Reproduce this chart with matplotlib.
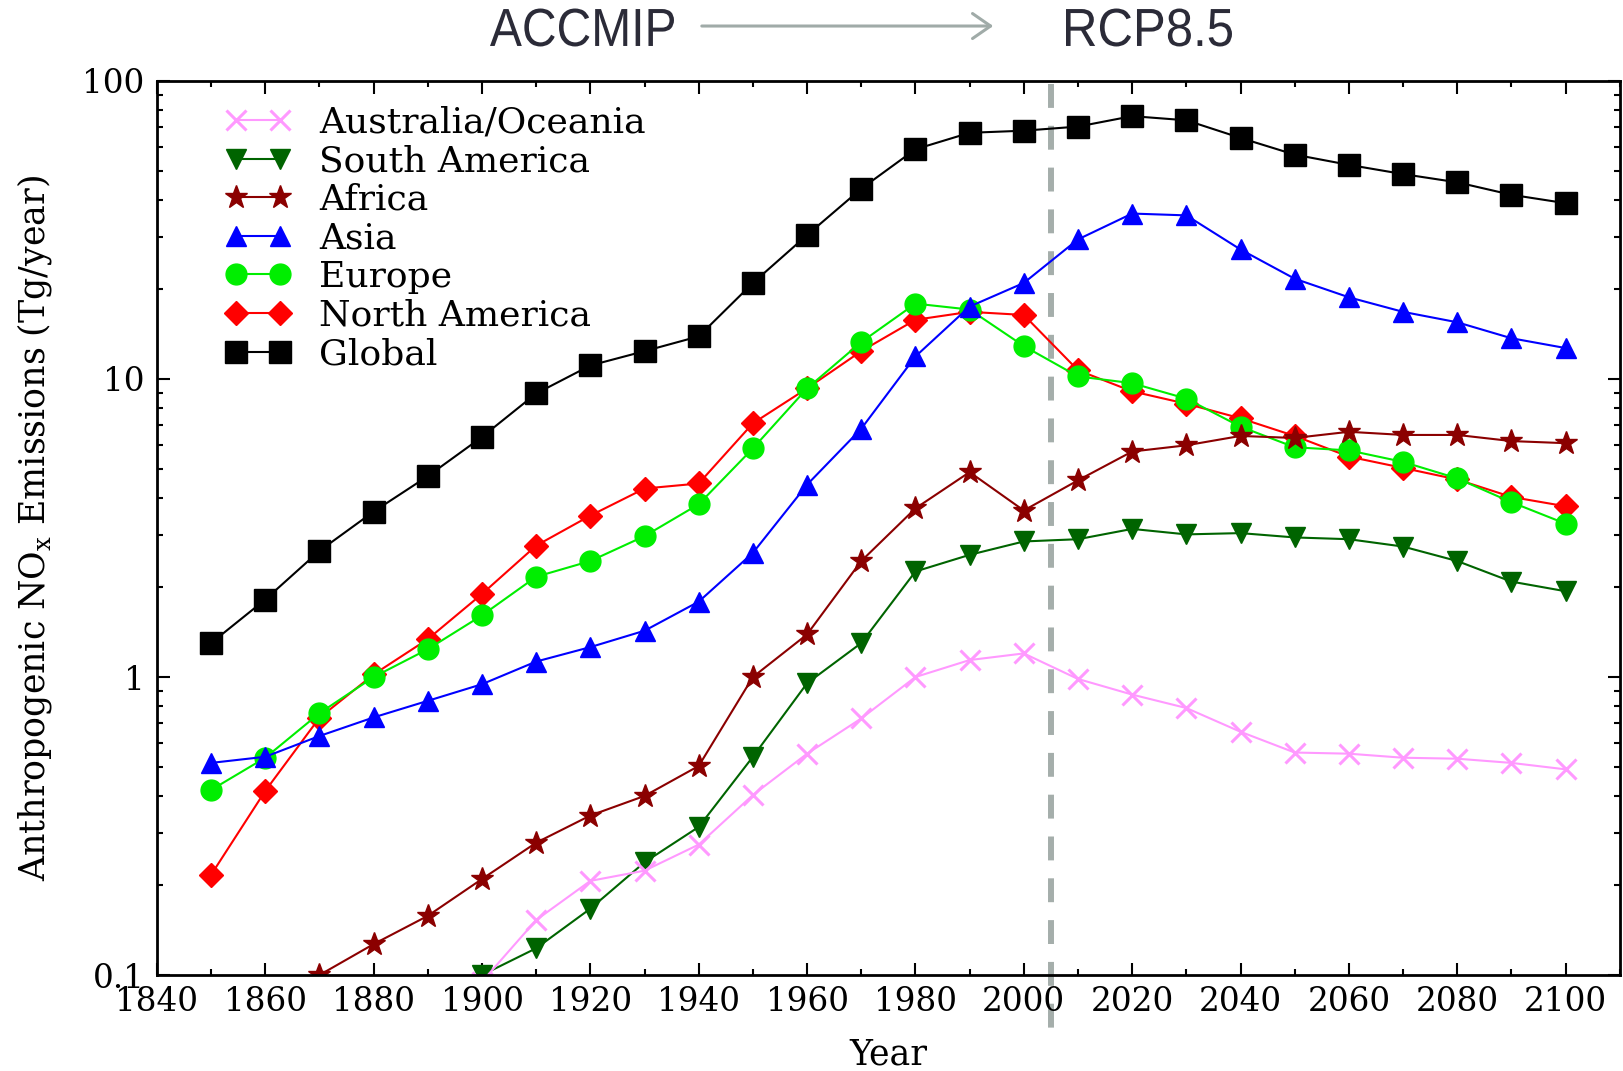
import matplotlib
matplotlib.use("Agg")
import matplotlib.pyplot as plt
from matplotlib.ticker import MultipleLocator, LogLocator, NullFormatter
import matplotlib.transforms as mtransforms
from matplotlib.textpath import TextPath
from matplotlib.patches import PathPatch, FancyArrowPatch
from matplotlib.font_manager import FontProperties

# decades 1850 .. 2100
years = list(range(1850, 2101, 10))

glob = [1.30, 1.82, 2.65, 3.59, 4.72, 6.39, 8.94, 11.1, 12.4, 13.9, 21.0, 30.4, 43.5,
        59.0, 67.0, 68.1, 70.3, 76.2, 73.8, 64.4, 56.6, 52.3, 48.7, 45.7, 41.5, 38.9]
north_america = [0.217, 0.415, 0.73, 1.02, 1.34, 1.90, 2.76, 3.48, 4.29, 4.46, 7.1, 9.3, 12.4,
                 15.8, 16.8, 16.4, 10.7, 9.09, 8.26, 7.38, 6.44, 5.49, 5.03, 4.60, 4.02, 3.74]
europe = [0.418, 0.536, 0.756, 1.0, 1.24, 1.61, 2.17, 2.45, 2.97, 3.80, 5.85, 9.3, 13.3,
          17.9, 17.1, 12.9, 10.2, 9.68, 8.59, 6.92, 5.90, 5.76, 5.27, 4.64, 3.86, 3.27]
asia = [0.515, 0.54, 0.634, 0.732, 0.832, 0.946, 1.127, 1.26, 1.43, 1.79, 2.61, 4.42, 6.81,
        11.9, 17.5, 21.0, 29.4, 35.9, 35.4, 27.2, 21.7, 18.8, 16.8, 15.5, 13.7, 12.7]

# the smaller regions only start later
years_africa = years[2:]
africa = [0.1, 0.127, 0.158, 0.210, 0.278, 0.343, 0.399, 0.503, 1.0, 1.39, 2.45,
          3.68, 4.87, 3.62, 4.57, 5.71, 5.99, 6.44, 6.34, 6.65, 6.49, 6.49, 6.19, 6.09]
years_late = years[5:]
south_america = [0.1, 0.123, 0.167, 0.239, 0.314, 0.54, 0.953, 1.30, 2.26, 2.57, 2.85,
                 2.90, 3.14, 3.01, 3.04, 2.94, 2.90, 2.74, 2.45, 2.09, 1.94]
australia = [0.095, 0.153, 0.207, 0.224, 0.274, 0.402, 0.553, 0.726, 1.0, 1.14, 1.20,
             0.985, 0.873, 0.787, 0.655, 0.558, 0.553, 0.536, 0.532, 0.515, 0.49]

split_year = 2005

SERIF = "DejaVu Serif"


def narrow_text(fig, s, cx, cy, width_px, height_px, color):
    # squeezed sans text, drawn as a path (no condensed font installed)
    tp = TextPath((0, 0), s, size=100, prop=FontProperties(family="Liberation Sans"))
    bb = tp.get_extents()
    tr = (mtransforms.Affine2D()
          .translate(-bb.x0 - bb.width / 2, -bb.y0 - bb.height / 2)
          .scale(width_px / bb.width, height_px / bb.height)
          .translate(cx, cy))
    fig.add_artist(PathPatch(tp, transform=tr, facecolor=color, edgecolor="none"))


fig = plt.figure(figsize=(16.23, 10.71), dpi=100)
ax = fig.add_axes([0.0967, 0.0896, 0.9013, 0.8348])

# plot bottom layer first, legend order is reversed later
h_glob, = ax.plot(years, glob, color="black", marker="s", ms=16, lw=1.5, label="Global")
h_na, = ax.plot(years, north_america, color="red", marker="D", ms=12, lw=1.5, label="North America")
h_eu, = ax.plot(years, europe, color="#00ee00", marker="o", ms=15, lw=1.5, label="Europe")
h_as, = ax.plot(years, asia, color="blue", marker="^", ms=15, lw=1.5, label="Asia")
h_af, = ax.plot(years_africa, africa, color="#8b0000", marker="*", ms=17, lw=1.5, label="Africa")
h_sa, = ax.plot(years_late, south_america, color="#006400", marker="v", ms=15, lw=1.5, label="South America")
h_au, = ax.plot(years_late, australia, color="#ff99ff", marker="x", ms=14, mew=2.2, lw=1.5,
                label="Australia/Oceania")

# ACCMIP -> RCP8.5 boundary, runs a bit past the axes
trans = mtransforms.blended_transform_factory(ax.transData, ax.transAxes)
ax.plot([split_year, split_year], [0.997, -0.06], transform=trans, color="#a5aeab",
        lw=4.3, ls=(0, (4, 3)), clip_on=False, zorder=0.5)

ax.set_yscale("log")
ax.set_xlim(1840, 2110)
ax.set_ylim(0.1, 100)

ax.xaxis.set_major_locator(MultipleLocator(20))
ax.xaxis.set_minor_locator(MultipleLocator(10))
ax.yaxis.set_major_locator(LogLocator(base=10))
ax.yaxis.set_minor_locator(LogLocator(base=10, subs=range(2, 10)))
ax.yaxis.set_minor_formatter(NullFormatter())
ax.set_yticks([0.1, 1, 10, 100])
ax.set_yticklabels(["0.1", "1", "10", "100"])

ax.tick_params(which="both", direction="in", top=True, right=True, width=1.5)
ax.tick_params(which="major", length=9)
ax.tick_params(which="minor", length=4.5)
ax.tick_params(axis="x", which="major", pad=8)
ax.tick_params(axis="y", which="major", pad=9)
for lbl in ax.get_xticklabels() + ax.get_yticklabels():
    lbl.set_family(SERIF)
    lbl.set_fontsize(23.5)

for sp in ax.spines.values():
    sp.set_linewidth(2)

ax.set_xlabel("Year", family=SERIF, fontsize=25)
ax.xaxis.set_label_coords(0.5, -0.07)
ax.set_ylabel(r"Anthropogenic NO$_{\mathregular{x}}$ Emissions (Tg/year)",
              family=SERIF, fontsize=25)
ax.yaxis.set_label_coords(-0.0704, 0.5)

handles = [h_au, h_sa, h_af, h_as, h_eu, h_na, h_glob]
ax.legend(handles=handles, loc="upper left", bbox_to_anchor=(0.139, 0.9013),
          bbox_transform=fig.transFigure, frameon=False, numpoints=2,
          prop={"family": SERIF, "size": 26}, handlelength=1.8,
          handletextpad=0.8, labelspacing=0.127, borderpad=0, borderaxespad=0)

# header above the plot (pixel positions, figure is 1623 x 1071)
head_color = "#2b2b38"
narrow_text(fig, "ACCMIP", 582, 1043.5, 184, 38, head_color)
narrow_text(fig, "RCP8.5", 1149, 1043.5, 166, 38, head_color)
fig.add_artist(FancyArrowPatch(
    (0.4307, 0.9757), (0.6137, 0.9757), transform=fig.transFigure,
    arrowstyle="->,head_length=13,head_width=9", color="#a0aba8", lw=2.2))

fig.savefig("out.png", dpi=100)
